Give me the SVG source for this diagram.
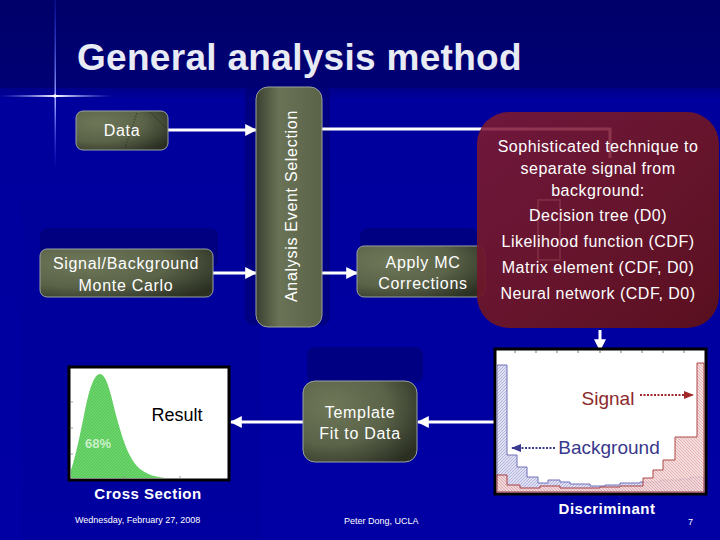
<svg xmlns="http://www.w3.org/2000/svg" width="720" height="540" viewBox="0 0 720 540">
<defs>
  <linearGradient id="bg" x1="0" y1="0" x2="0" y2="1">
    <stop offset="0" stop-color="#00006a"/>
    <stop offset="0.16" stop-color="#000074"/>
    <stop offset="0.19" stop-color="#00009c"/>
    <stop offset="1" stop-color="#0000a4"/>
  </linearGradient>
  <radialGradient id="node" cx="0.25" cy="0.3" r="0.9">
    <stop offset="0" stop-color="#6e7858"/>
    <stop offset="0.55" stop-color="#5a6248"/>
    <stop offset="1" stop-color="#2a2f22"/>
  </radialGradient>
  <linearGradient id="nodeV" x1="0" y1="0" x2="1" y2="0">
    <stop offset="0" stop-color="#3a4030"/>
    <stop offset="0.35" stop-color="#6a7356"/>
    <stop offset="1" stop-color="#5a6248"/>
  </linearGradient>
  <linearGradient id="red" x1="0" y1="0" x2="1" y2="1">
    <stop offset="0" stop-color="#761838"/>
    <stop offset="0.5" stop-color="#6c1628"/>
    <stop offset="1" stop-color="#5e1018"/>
  </linearGradient>
  <linearGradient id="hx" x1="0" y1="0" x2="1" y2="0">
    <stop offset="0" stop-color="#8090ff" stop-opacity="0"/>
    <stop offset="0.5" stop-color="#ffffff"/>
    <stop offset="1" stop-color="#8090ff" stop-opacity="0"/>
  </linearGradient>
  <linearGradient id="vx" x1="0" y1="0" x2="0" y2="1">
    <stop offset="0" stop-color="#3040ff" stop-opacity="0.2"/>
    <stop offset="0.6" stop-color="#a0a8ff"/>
    <stop offset="1" stop-color="#3040ff" stop-opacity="0"/>
  </linearGradient>
  <marker id="ah" viewBox="0 0 10 10" refX="9" refY="5" markerWidth="4" markerHeight="4" orient="auto">
    <path d="M0,0 L10,5 L0,10 z" fill="#ffffff"/>
  </marker>
  <marker id="ahS" viewBox="0 0 10 10" refX="9" refY="5" markerWidth="5" markerHeight="5" orient="auto">
    <path d="M0,1 L10,5 L0,9 z" fill="#a02828"/>
  </marker>
  <marker id="ahB" viewBox="0 0 10 10" refX="9" refY="5" markerWidth="5" markerHeight="5" orient="auto">
    <path d="M0,1 L10,5 L0,9 z" fill="#3a3a90"/>
  </marker>
  <pattern id="hatchB" width="3" height="3" patternUnits="userSpaceOnUse">
    <rect width="3" height="3" fill="#e0e0f4"/>
    <path d="M0,3 L3,0" stroke="#a0a0d0" stroke-width="0.7"/>
  </pattern>
  <pattern id="hatchR" width="3" height="3" patternUnits="userSpaceOnUse">
    <rect width="3" height="3" fill="#f4d8d8"/>
    <path d="M0,0 L3,3" stroke="#d89090" stroke-width="0.7"/>
  </pattern>
  <pattern id="hatchG" width="3" height="3" patternUnits="userSpaceOnUse">
    <rect width="3" height="3" fill="#5ccc5c"/>
    <path d="M0,3 L3,0" stroke="#8ee08e" stroke-width="0.5"/>
  </pattern>
</defs>
<style>
  .nd { fill: url(#node); stroke: #9aa2a0; stroke-width: 1; }
  .t { font-family: "Liberation Sans", Arial, sans-serif; fill: #ffffff; font-size: 16px; text-anchor: middle; letter-spacing: 0.7px; }
  .rt { font-family: "Liberation Sans", Arial, sans-serif; fill: #ffffff; font-size: 16px; text-anchor: middle; letter-spacing: 0.5px; }
  .lab { font-family: "Liberation Sans", Arial, sans-serif; fill: #ffffff; font-size: 15px; font-weight: bold; text-anchor: middle; letter-spacing: 0.5px; }
  .ft { font-family: "Liberation Sans", Arial, sans-serif; fill: #ffffff; font-size: 9px; }
  .cn { stroke: #ffffff; stroke-width: 3; fill: none; }
  .sh { fill: #000070; opacity: 0.6; }
</style>

<!-- background -->
<rect width="720" height="540" fill="url(#bg)"/>
<rect x="0" y="88" width="720" height="14" fill="#0000b4" opacity="0.3"/>
<rect x="22" y="200" width="240" height="340" fill="#000090" opacity="0.2"/>
<!-- sparkle -->
<rect x="0" y="95" width="112" height="2" fill="url(#hx)"/>
<rect x="54.5" y="0" width="1.5" height="170" fill="url(#vx)"/>
<circle cx="55" cy="96" r="1.8" fill="#ffffff"/>

<!-- title -->
<text x="77" y="70" font-family="'Liberation Sans', Arial, sans-serif" font-size="37" font-weight="bold" fill="#e8eaf4" letter-spacing="0.3">General analysis method</text>

<!-- shadows -->
<rect class="sh" x="40" y="228" width="178" height="40" rx="8"/>
<rect class="sh" x="360" y="228" width="118" height="40" rx="8"/>
<rect class="sh" x="307" y="347" width="116" height="36" rx="8"/>
<rect class="sh" x="245" y="85" width="85" height="240" rx="8" opacity="0.25"/>

<!-- connectors -->
<g id="connectors">
  <line class="cn" x1="168" y1="130" x2="256" y2="130" marker-end="url(#ah)"/>
  <line class="cn" x1="213" y1="273" x2="256" y2="273" marker-end="url(#ah)"/>
  <line class="cn" x1="322" y1="129" x2="482" y2="129"/>
  <line class="cn" x1="322" y1="273" x2="357" y2="273" marker-end="url(#ah)"/>
  <line class="cn" x1="600" y1="330" x2="600" y2="350" marker-end="url(#ah)"/>
  <line class="cn" x1="494" y1="422" x2="418" y2="422" marker-end="url(#ah)"/>
  <line class="cn" x1="303" y1="422" x2="231" y2="422" marker-end="url(#ah)"/>
</g>

<!-- nodes -->
<g id="data">
  <rect class="nd" x="76" y="111" width="92" height="39" rx="7"/>
  <path d="M137,113 L125,148 M150,112 L166,128" stroke="#1a1a1a" stroke-width="0.6" stroke-dasharray="1.5,1.5" fill="none"/>
  <text class="t" x="122" y="136">Data</text>
</g>
<g id="sbmc">
  <rect class="nd" x="40" y="249" width="173" height="48" rx="7"/>
  <text class="t" x="126" y="269">Signal/Background</text>
  <text class="t" x="126" y="291">Monte Carlo</text>
</g>
<g id="evsel">
  <rect x="256" y="87" width="66" height="240" rx="12" fill="url(#nodeV)" stroke="#9aa2a0" stroke-width="1"/>
  <text class="t" transform="translate(297,206) rotate(-90)" font-size="16" letter-spacing="0.8">Analysis Event Selection</text>
</g>
<g id="applymc">
  <rect class="nd" x="357" y="246" width="128" height="51" rx="7"/>
  <text class="t" x="423" y="268">Apply MC</text>
  <text class="t" x="423" y="289">Corrections</text>
</g>
<g id="technique">
  <rect x="477" y="112" width="242" height="216" rx="32" fill="url(#red)" opacity="0.95"/>
  <path d="M482,129 L610,129 L610,158" stroke="#d07080" stroke-width="3" fill="none" opacity="0.35"/>
  <rect x="538" y="200" width="22" height="60" fill="none" stroke="#c06070" stroke-width="2" opacity="0.25"/>
  <text class="rt" x="598" y="152">Sophisticated technique to</text>
  <text class="rt" x="598" y="174">separate signal from</text>
  <text class="rt" x="598" y="196">background:</text>
  <text class="rt" x="598" y="221">Decision tree (D0)</text>
  <text class="rt" x="598" y="247">Likelihood function (CDF)</text>
  <text class="rt" x="598" y="273">Matrix element (CDF, D0)</text>
  <text class="rt" x="598" y="299">Neural network (CDF, D0)</text>
</g>
<g id="discriminant">
  <rect x="495" y="349" width="211" height="145" fill="#ffffff" stroke="#000000" stroke-width="3"/>
  <path d="M497,492 L497,365 L507,365 L507,455 L517,455 L517,467 L527,467 L527,477 L538,477 L538,483 L548,483 L548,480 L560,480 L560,482 L570,482 L570,484 L590,484 L590,486 L605,486 L605,485 L620,485 L620,483 L640,483 L640,482 L660,482 L660,480 L680,480 L680,479 L690,479 L690,477 L704,477 L704,492 Z" fill="url(#hatchB)" stroke="#7070b8" stroke-width="1"/>
  <path d="M497,492 L497,475 L507,475 L507,485 L520,485 L520,488 L540,488 L540,486 L560,486 L560,488 L600,488 L600,487 L620,487 L620,486 L643,486 L643,478 L653,478 L653,470 L663,470 L663,460 L675,460 L675,437 L697,437 L697,363 L704,363 L704,492 Z" fill="url(#hatchR)" stroke="#a02828" stroke-width="1" opacity="0.85"/>
  <g stroke="#555" stroke-width="0.8">
    <line x1="515" y1="350" x2="515" y2="353"/><line x1="536" y1="350" x2="536" y2="353"/><line x1="557" y1="350" x2="557" y2="353"/><line x1="578" y1="350" x2="578" y2="353"/><line x1="600" y1="350" x2="600" y2="353"/><line x1="621" y1="350" x2="621" y2="353"/><line x1="642" y1="350" x2="642" y2="353"/><line x1="663" y1="350" x2="663" y2="353"/><line x1="684" y1="350" x2="684" y2="353"/>
  </g>
  <text x="608" y="405" font-family="'Liberation Sans', Arial, sans-serif" font-size="19" fill="#8c2a2a" text-anchor="middle">Signal</text>
  <line x1="640" y1="395" x2="693" y2="395" stroke="#a02828" stroke-width="2" stroke-dasharray="2,1.5" marker-end="url(#ahS)"/>
  <text x="609" y="454" font-family="'Liberation Sans', Arial, sans-serif" font-size="19" fill="#38388c" text-anchor="middle">Background</text>
  <line x1="555" y1="448" x2="512" y2="448" stroke="#3a3a90" stroke-width="2" stroke-dasharray="2,1.5" marker-end="url(#ahB)"/>
  <text class="lab" x="607" y="514">Discriminant</text>
</g>
<g id="template">
  <rect class="nd" x="303" y="381" width="114" height="81" rx="12"/>
  <text class="t" x="360" y="418">Template</text>
  <text class="t" x="360" y="439">Fit to Data</text>
</g>
<g id="result">
  <rect x="69" y="367" width="160" height="113" fill="#ffffff" stroke="#000000" stroke-width="3"/>
  <path d="M71,478 L71,470 C76,455 80,435 85,410 C90,385 95,374 100,374 C106,374 110,390 116,415 C124,445 130,460 140,469 C148,475 156,477 165,478 Z" fill="url(#hatchG)"/>
  <g stroke="#888" stroke-width="0.8">
    <line x1="71" y1="402" x2="73" y2="402"/><line x1="71" y1="428" x2="73" y2="428"/><line x1="71" y1="454" x2="73" y2="454"/>
    <line x1="124" y1="476" x2="124" y2="478"/><line x1="180" y1="476" x2="180" y2="478"/>
  </g>
  <text x="177" y="421" font-family="'Liberation Sans', Arial, sans-serif" font-size="18" fill="#000000" text-anchor="middle">Result</text>
  <text x="98" y="448" font-family="'Liberation Sans', Arial, sans-serif" font-size="13" font-weight="bold" fill="#c8f0c8" text-anchor="middle">68%</text>
  <text class="lab" x="148" y="499">Cross Section</text>
</g>

<!-- footer -->
<text class="ft" x="75" y="523">Wednesday, February 27, 2008</text>
<text class="ft" x="344" y="524">Peter Dong, UCLA</text>
<text class="ft" x="688" y="525">7</text>
</svg>
